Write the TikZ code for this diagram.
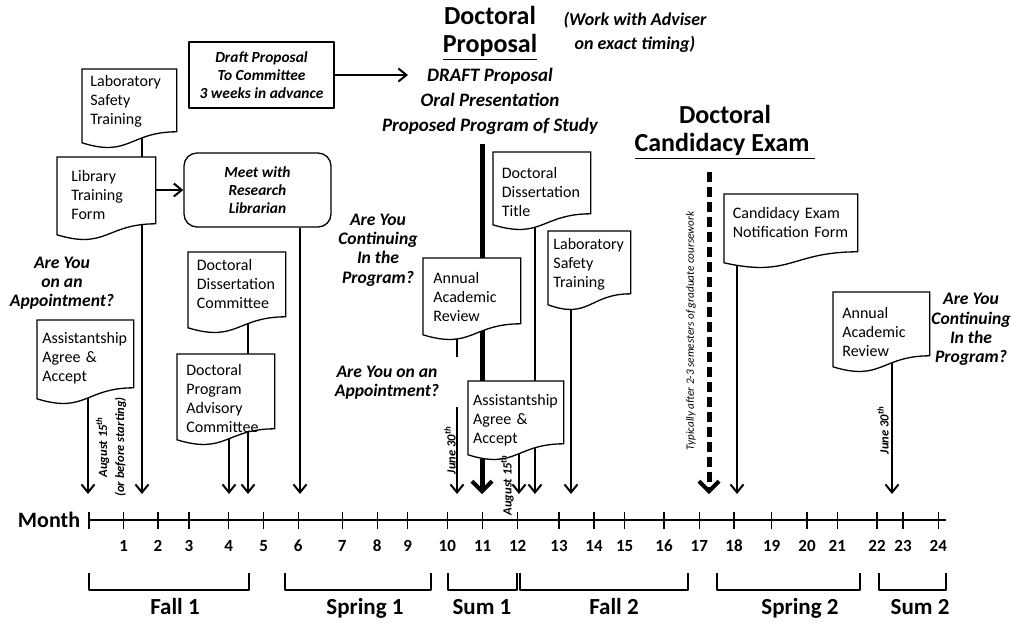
\documentclass[tikz,border=0pt]{standalone}
\usepackage{fontspec}
\setmainfont{Carlito}
\usetikzlibrary{arrows.meta,calc}

\pgfdeclarelayer{lines}
\pgfdeclarelayer{docfill}
\pgfsetlayers{lines,docfill,main}
% document outline with a wavy bottom, optional arg shifts the wave (px)
\newcommand{\DocShape}[2][0]{%
  \begin{pgfonlayer}{docfill}
    \path[docshape] (#2.north west) -- (#2.north east) -- ($(#2.south east)+(0,#1)$)
      .. controls ($(#2.south)+(0,#1)$) and ($(#2.south)+(0,#1+26)$) .. ($(#2.south west)+(0,#1+11)$) -- cycle;
  \end{pgfonlayer}
}

\begin{document}
\begin{tikzpicture}[
    x=0.5pt,y=-0.5pt,
    line join=round,
    docbox/.style={anchor=north west, align=left, inner ysep=0pt, font=\fontsize{8}{9.5}\selectfont},
    docshape/.style={draw=black, fill=white, line width=0.65pt},
    actbox/.style={draw=black, fill=white, line width=0.65pt, align=center, inner sep=0pt,
        font=\fontsize{7.7}{9}\selectfont\bfseries\itshape},
    question/.style={align=center, font=\fontsize{8.8}{9.6}\selectfont\bfseries\itshape},
    bigtitle/.style={align=center, font=\fontsize{13}{13.7}\selectfont\bfseries},
    datelab/.style={rotate=90, align=center, inner sep=0pt, font=\fontsize{6.3}{8.5}\selectfont\bfseries\itshape},
    plainline/.style={draw=black, line width=0.65pt},
    evarrow/.style={plainline, -{Straight Barb[length=4pt,width=6.5pt,line width=1pt]}},
    keyarrow/.style={draw=black, line width=2.5pt, -{Straight Barb[length=5pt,width=10pt,line width=2pt]}},
    examarrow/.style={keyarrow, dash pattern=on 5pt off 2.5pt},
    tickline/.style={draw=black, line width=0.6pt},
    monthnum/.style={font=\fontsize{8.5}{10}\selectfont\bfseries},
    semline/.style={draw=black, line width=0.8pt},
    semlab/.style={anchor=base, font=\fontsize{11.5}{13}\selectfont\bfseries}
]
\useasboundingbox (0,0) rectangle (1011,622);

% arrow ends on the month axis
\coordinate (a0) at (88,494);
\coordinate (a1) at (142,494);
\coordinate (a4) at (229,494);
\coordinate (a4b) at (248,494);
\coordinate (a6) at (300,494);
\coordinate (a10) at (457,494);
\coordinate (a11) at (482,494);
\coordinate (a12) at (519,494);
\coordinate (a12b) at (535,494);
\coordinate (a13) at (571,494);
\coordinate (a17) at (709,494);
\coordinate (a18) at (737,494);
\coordinate (a22) at (892,494);

% titles
\node[bigtitle] (proptitle) at (490,33.5) {Doctoral\\\underline{Proposal}};
\node[align=center, font=\fontsize{9}{12}\selectfont\bfseries\itshape] (advnote) at (635,32)
    {(Work with Adviser\\on exact timing)};
\node[align=center, font=\fontsize{9.5}{12.5}\selectfont\bfseries\itshape] (plist) at (490,101.5)
    {DRAFT Proposal\\Oral Presentation\\Proposed Program of Study};
\node[bigtitle, font=\fontsize{13}{14}\selectfont\bfseries] (candtitle) at (725,132)
    {Doctoral\\\underline{Candidacy Exam~}};

% first year
\node[docbox, text width=39pt, inner xsep=4pt, minimum height=32pt] (lst1) at (82,69)
    {Laboratory\\Safety\\Training};
\DocShape[-2]{lst1}
\node[docbox, text width=35pt, inner xsep=7pt, minimum height=38pt] (ltf) at (57,157)
    {Library\\Training\\Form};
\DocShape[-10]{ltf}
\node[actbox, rounded corners=6.5pt, minimum width=73.5pt, minimum height=37pt] (mrl) at (257.5,190)
    {Meet with\\Research\\Librarian};
\node[actbox, minimum width=72.5pt, minimum height=33pt] (dpc) at (261.5,75)
    {Draft Proposal\\To Committee\\3 weeks in advance};
\node[question] (q1) at (62,283) {Are You\\on an\\Appointment?};
\node[docbox, text width=43pt, inner xsep=2.5pt, minimum height=38pt] (asa1) at (37,320)
    {Assistantship\\Agree \&\\Accept};
\DocShape[-9]{asa1}
\node[docbox, text width=40pt, inner xsep=4.25pt, minimum height=32pt] (ddc) at (188,252)
    {Doctoral\\Dissertation\\Committee};
\DocShape{ddc}
\node[docbox, text width=39.5pt, inner xsep=4.5pt, minimum height=44.5pt] (dpac) at (177,354)
    {Doctoral\\Program\\Advisory\\Committee};
\DocShape[-15]{dpac}
\node[datelab] (aug1) at (111,447) {August 15\textsuperscript{th}\\(or before starting)};

% second year
\node[question] (q2) at (378,250) {Are You\\Continuing\\In the\\Program?};
\node[question] (q3) at (387,382.5) {Are You on an\\Appointment?};
\node[docbox, text width=38.5pt, inner xsep=5pt, minimum height=39pt] (aar1) at (423,258)
    {Annual\\Academic\\Review};
\DocShape[-13]{aar1}
\node[docbox, text width=42.7pt, inner xsep=2.4pt, minimum height=39pt] (asa2) at (468,381)
    {Assistantship\\Agree \&\\Accept};
\DocShape[-16]{asa2}
\node[docbox, text width=40pt, inner xsep=4.25pt, minimum height=40pt] (ddt) at (493,152)
    {Doctoral\\Dissertation\\Title};
\DocShape[-19]{ddt}
\node[docbox, text width=36pt, inner xsep=2.5pt, minimum height=33pt] (lst2) at (548,231)
    {Laboratory\\Safety\\Training};
\DocShape[-4]{lst2}
\node[datelab] (jun1) at (450,450) {June 30\textsuperscript{th}};
\node[datelab] (aug2) at (507,485) {August 15\textsuperscript{th}};
\node[docbox, text width=58pt, inner xsep=4.25pt, minimum height=28.5pt] (cenf) at (724,194)
    {Candidacy Exam\\Notification Form};
\DocShape{cenf}
\node[rotate=90, inner sep=0pt, font=\fontsize{5.6}{7}\selectfont\itshape] (typnote) at (691,331)
    {Typically after 2-3 semesters of graduate coursework};
\node[docbox, text width=39pt, inner xsep=4.5pt, minimum height=40pt] (aar2) at (833,292)
    {Annual\\Academic\\Review};
\DocShape[-17]{aar2}
\node[question] (q4) at (971,329.5) {Are You\\Continuing\\In the\\Program?};
\node[datelab] (jun2) at (883,430) {June 30\textsuperscript{th}};

% connectors
\begin{pgfonlayer}{lines}
    \draw[evarrow] (dpc.east) -- (dpc.east -| plist.west) -- ++(33,0);
    \draw[evarrow] (ltf.east |- mrl.west) -- (mrl.west);
    \draw[plainline] (lst1 -| a1) -- (ltf.north -| a1);
    \draw[evarrow] (ltf -| a1) -- (a1);
    \draw[evarrow] (asa1 -| a0) -- (a0);
    \draw[evarrow] (ddc -| a4b) -- (a4b);
    \draw[evarrow] (dpac -| a4) -- (a4);
    \draw[evarrow] (mrl.south -| a6) -- (a6);
    \draw[keyarrow] ([yshift=-1pt]plist.south -| a11) -- (a11);
    \coordinate (aarstub) at (457,357);
    \coordinate (junstart) at (457,407);
    \draw[plainline] (aar1 -| aarstub) -- (aarstub);
    \draw[evarrow] (junstart) -- (a10);
    \draw[evarrow] (asa2 -| a12) -- (a12);
    \draw[evarrow] (ddt -| a12b) -- (a12b);
    \draw[evarrow] (lst2 -| a13) -- (a13);
    \draw[examarrow] ([yshift=-3pt]candtitle.south -| a17) -- (a17);
    \draw[evarrow] (cenf -| a18) -- (a18);
    \draw[evarrow] (aar2 -| a22) -- (a22);
\end{pgfonlayer}

% month axis
\node[font=\fontsize{11}{13}\selectfont\bfseries] (monthlab) at (49,520) {Month};
\coordinate (axstart) at (89,520);
\coordinate (axend) at (946,520);
\draw[draw=black, line width=1pt] (axstart) -- (axend);
\foreach \tx [count=\i from 0] in {89,123.7,158,189,228.7,263.7,298.3,342.3,377.3,407.7,447.3,482.7,
    517.7,559,594,624.7,664,699.3,734,771.7,807,837.3,877,903,938.3} {
    \draw[tickline] (\tx,512) -- (\tx,529);
    \ifnum\i>0 \node[monthnum] (m\i) at (\tx,546) {\i}; \fi
}

% semesters
\foreach \ba/\bb/\lx/\lab [count=\k] in {89/249/175/Fall 1, 285/431/365/Spring 1, 448/517/482/Sum 1,
    520/688/614/Fall 2, 717/860/800/Spring 2, 879/946/920/Sum 2} {
    \draw[semline] (\ba,573) -- (\ba,590) -- (\bb,590) -- (\bb,573);
    \node[semlab] (sem\k) at (\lx,614) {\lab};
}
\end{tikzpicture}
\end{document}
